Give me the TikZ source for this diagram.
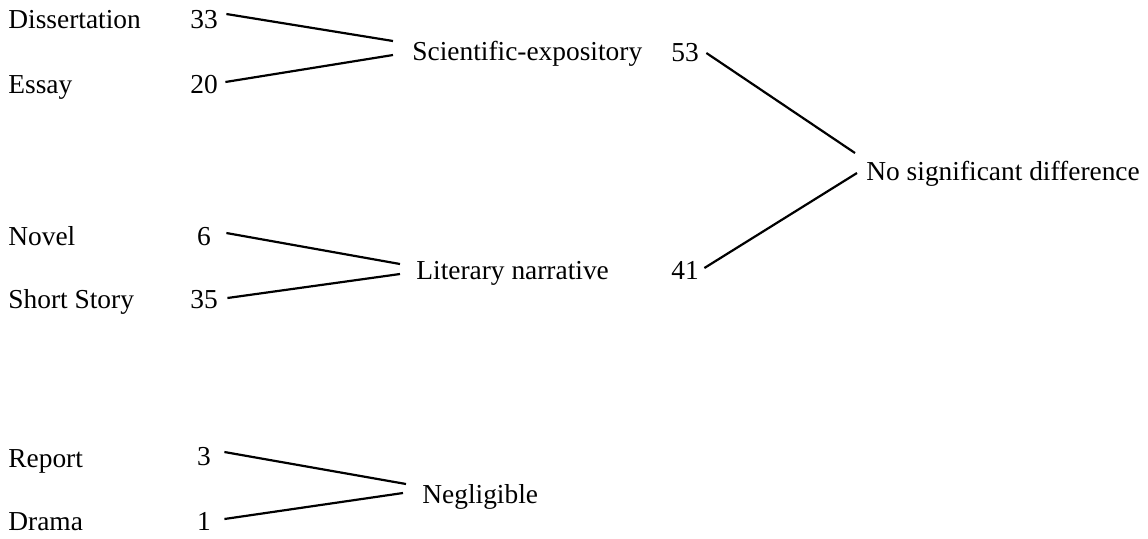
\documentclass[tikz,border=0pt]{standalone}
\usepackage{fontspec}
\setmainfont{Liberation Serif}
\usetikzlibrary{calc}

\begin{document}
\begin{tikzpicture}[x=0.5pt,y=-0.5pt,
    every node/.style={inner sep=0pt, font=\fontsize{13.7}{16}\selectfont},
    genre/.style={anchor=base west},
    count/.style={anchor=base, minimum width=15pt},
    link/.style={line width=1.1pt}]
\useasboundingbox (0,0) rectangle (1148,538);

% left column: genres
\node[genre] (diss) at (8,28) {Dissertation};
\node[genre] (essay) at (8,93) {Essay};
\node[genre] (novel) at (8,245) {Novel};
\node[genre] (short) at (8,308) {Short Story};
\node[genre] (report) at (8,467) {Report};
\node[genre] (drama) at (8,530) {Drama};

\node[count] (n33) at (204,28) {33};
\node[count] (n20) at (204,93) {20};
\node[count] (n6) at (204,245) {6};
\node[count] (n35) at (204,308) {35};
\node[count] (n3) at (204,465) {3};
\node[count] (n1) at (204,530) {1};

% middle column: groups
\node[genre] (sci) at (412,60) {Scientific-expository};
\node[genre] (lit) at (416,279) {Literary narrative};
\node[genre] (negl) at (422,503) {Negligible};

\node[count] (n53) at (685,61) {53};
\node[count] (n41) at (685,279) {41};

% right column
\node[genre] (nodiff) at (866,180) {No significant difference};

\draw[link] ($(n33.base east)+(7,-14)$) -- ($(sci.base west)+(-19,-19)$);
\draw[link] ($(n20.base east)+(6,-11)$) -- ($(sci.base west)+(-19,-5)$);
\draw[link] ($(n6.base east)+(7,-12)$) -- ($(lit.base west)+(-16,-15)$);
\draw[link] ($(n35.base east)+(8,-10)$) -- ($(lit.base west)+(-16,-5)$);
\draw[link] ($(n3.base east)+(5,-13)$) -- ($(negl.base west)+(-16,-19)$);
\draw[link] ($(n1.base east)+(5,-11)$) -- ($(negl.base west)+(-19,-10)$);

\draw[link] ($(n53.base east)+(6,-8)$) -- ($(nodiff.base west)+(-11,-27)$);
\draw[link] ($(n41.base east)+(4,-11)$) -- ($(nodiff.base west)+(-9,-7)$);
\end{tikzpicture}
\end{document}
